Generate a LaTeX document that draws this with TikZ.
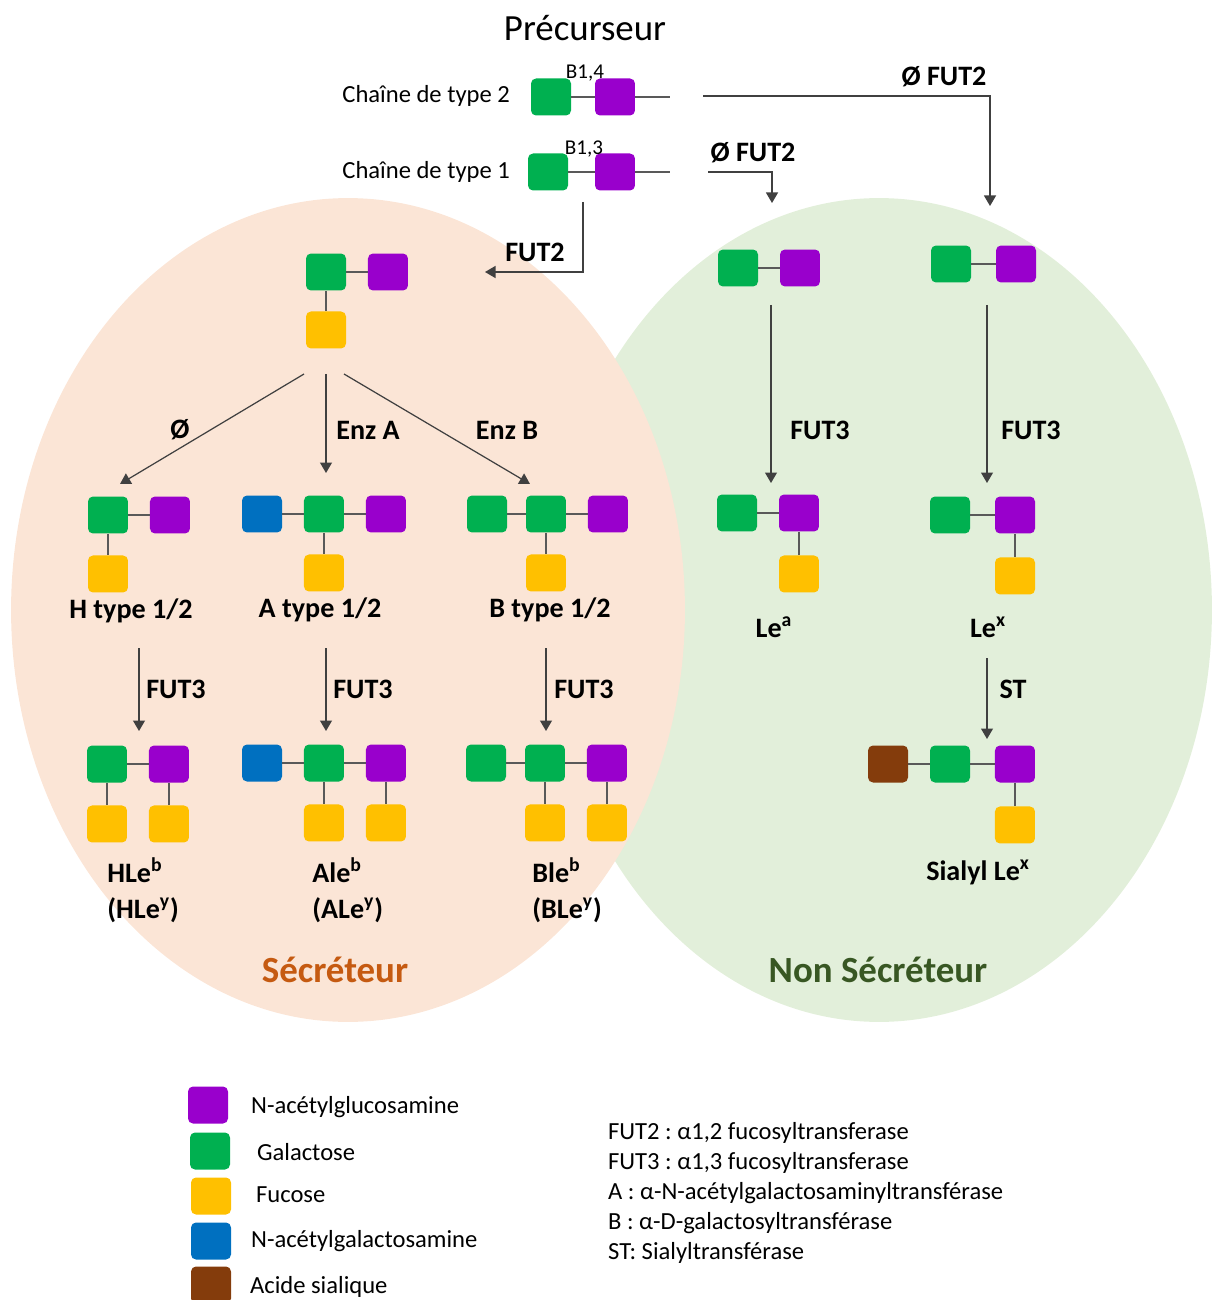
\documentclass[tikz,border=0pt]{standalone}
\usepackage{fontspec}
\setmainfont{Carlito}
\usepackage{tikz}
\usetikzlibrary{arrows.meta}
\frenchspacing

\definecolor{gal}{HTML}{00B050}
\definecolor{glcnac}{HTML}{9900CC}
\definecolor{fuc}{HTML}{FFC000}
\definecolor{galnac}{HTML}{0070C0}
\definecolor{sia}{HTML}{843C0C}
\definecolor{secfill}{HTML}{FBE5D6}
\definecolor{nonsecfill}{HTML}{E2EFDA}
\definecolor{sectext}{HTML}{C55A11}
\definecolor{nonsectext}{HTML}{385723}

\tikzstyle{arrow} = [line width=0.7pt, draw=black!75, -{Triangle[length=2.1mm,width=2.4mm]}]
\tikzstyle{link} = [line width=0.6pt, draw=black!65]
\tikzstyle{sugar} = [rectangle, rounded corners=0.1cm, minimum width=0.8cm, minimum height=0.74cm, inner sep=0pt]
\tikzstyle{Gal} = [sugar, fill=gal]
\tikzstyle{GlcNAc} = [sugar, fill=glcnac]
\tikzstyle{Fuc} = [sugar, fill=fuc]
\tikzstyle{GalNAc} = [sugar, fill=galnac]
\tikzstyle{Sia} = [sugar, fill=sia]
\tikzstyle{enz} = [font=\fontsize{16}{20}\selectfont\bfseries, inner sep=1pt]
\tikzstyle{glyco} = [font=\fontsize{16}{20.5}\selectfont\bfseries, inner sep=0pt, align=left, anchor=west]
\tikzstyle{plain} = [font=\fontsize{14}{17}\selectfont, inner sep=1pt]
\tikzstyle{bond} = [font=\fontsize{12}{14}\selectfont, inner sep=0pt]

\begin{document}
\begin{tikzpicture}[x=0.02cm, y=-0.02cm, node distance=1.24cm]
\useasboundingbox (0,0) rectangle (1215,1300);

% two populations
\fill [nonsecfill] (879,610) ellipse [x radius=6.66cm, y radius=8.24cm];
\fill [secfill] (348,610) ellipse [x radius=6.74cm, y radius=8.24cm];
\node (sec) at (335,970) [font=\fontsize{21}{25}\selectfont\bfseries, text=sectext] {Sécréteur};
\node (nonsec) at (878,970) [font=\fontsize{21}{25}\selectfont\bfseries, text=nonsectext] {Non Sécréteur};

% precursor chains
\node (title) at (585,28) [font=\fontsize{21}{25}\selectfont] {Précurseur};
\node (t2label) at (512,96) [plain, anchor=east] {Chaîne de type 2};
\node (t2Gal) at (551,97) [Gal] {};
\node (t2Glc) [GlcNAc, right of=t2Gal, node distance=1.28cm] {};
\node (t2bond) at (585,73) [bond] {B1,4};
\coordinate (t2end) at (670,97);
\draw [link] (t2Gal) -- (t2Glc);
\draw [link] (t2Glc) -- (t2end);

\node (t1label) at (512,172) [plain, anchor=east] {Chaîne de type 1};
\node (t1Gal) at (548,172) [Gal] {};
\node (t1Glc) [GlcNAc, right of=t1Gal, node distance=1.34cm] {};
\node (t1bond) at (584,149) [bond] {B1,3};
\coordinate (t1end) at (670,172);
\draw [link] (t1Gal) -- (t1Glc);
\draw [link] (t1Glc) -- (t1end);

% FUT2 or not
\coordinate (nf2a) at (703,96);
\coordinate (nf2b) at (990,206);
\draw [arrow] (nf2a) -| (nf2b);
\node (nf2lbl) at (944,77) [enz] {Ø FUT2};
\coordinate (nf1a) at (708,172);
\coordinate (nf1b) at (772,203);
\draw [arrow] (nf1a) -| (nf1b);
\node (nf1lbl) at (753,153) [enz] {Ø FUT2};
\coordinate (f2a) at (583,202);
\coordinate (f2b) at (485,272);
\draw [arrow] (f2a) |- (f2b);
\node (f2lbl) at (535,252) [enz] {FUT2};

% H precursor
\node (pGal) at (326,272) [Gal] {};
\node (pGlc) [GlcNAc, right of=pGal] {};
\node (pFuc) [Fuc, below of=pGal, node distance=1.16cm] {};
\draw [link] (pGal) -- (pGlc);
\draw [link] (pGal) -- (pFuc);

\coordinate (treeH) at (304,374);
\coordinate (treeA) at (326,374);
\coordinate (treeB) at (344,374);
\coordinate (toH) at (120,484);
\coordinate (toA) at (326,473);
\coordinate (toB) at (530,484);
\draw [arrow] (treeH) -- (toH);
\draw [arrow] (treeA) -- (toA);
\draw [arrow] (treeB) -- (toB);
\node (enzO) at (180,430) [enz] {Ø};
\node (enzA) at (368,430) [enz] {Enz A};
\node (enzB) at (507,430) [enz] {Enz B};

% H, A, B type 1/2
\node (hGal) at (108,515) [Gal] {};
\node (hGlc) [GlcNAc, right of=hGal] {};
\node (hFuc) [Fuc, below of=hGal, node distance=1.18cm] {};
\draw [link] (hGal) -- (hGlc);
\draw [link] (hGal) -- (hFuc);
\node (hlbl) at (131,611) [enz] {H type 1/2};

\node (aNac) at (262,514) [GalNAc] {};
\node (aGal) [Gal, right of=aNac] {};
\node (aGlc) [GlcNAc, right of=aGal] {};
\node (aFuc) [Fuc, below of=aGal, node distance=1.18cm] {};
\draw [link] (aNac) -- (aGal) -- (aGlc);
\draw [link] (aGal) -- (aFuc);
\node (albl) at (320,610) [enz] {A type 1/2};

\node (bGalx) at (487,514) [Gal] {};
\node (bGal) [Gal, right of=bGalx, node distance=1.18cm] {};
\node (bGlc) [GlcNAc, right of=bGal] {};
\node (bFuc) [Fuc, below of=bGal, node distance=1.18cm] {};
\draw [link] (bGalx) -- (bGal) -- (bGlc);
\draw [link] (bGal) -- (bFuc);
\node (blbl) at (550,610) [enz] {B type 1/2};

% FUT3 on secretor side
\coordinate (h3a) at (139,648);
\coordinate (h3b) at (139,731);
\draw [arrow] (h3a) -- (h3b);
\node (h3lbl) at (176,689) [enz] {FUT3};
\coordinate (a3a) at (326,648);
\coordinate (a3b) at (326,731);
\draw [arrow] (a3a) -- (a3b);
\node (a3lbl) at (363,689) [enz] {FUT3};
\coordinate (b3a) at (546,648);
\coordinate (b3b) at (546,731);
\draw [arrow] (b3a) -- (b3b);
\node (b3lbl) at (584,689) [enz] {FUT3};

% HLeb, ALeb, BLeb
\node (hlGal) at (107,764) [Gal] {};
\node (hlGlc) [GlcNAc, right of=hlGal] {};
\node (hlFuc) [Fuc, below of=hlGal, node distance=1.2cm] {};
\node (hlFuc2) [Fuc, below of=hlGlc, node distance=1.2cm] {};
\draw [link] (hlGal) -- (hlGlc);
\draw [link] (hlGal) -- (hlFuc);
\draw [link] (hlGlc) -- (hlFuc2);
\node (hllbl) at (107,890) [glyco] {HLe\textsuperscript{b}\\(HLe\textsuperscript{y})};

\node (alNac) at (262,763) [GalNAc] {};
\node (alGal) [Gal, right of=alNac] {};
\node (alGlc) [GlcNAc, right of=alGal] {};
\node (alFuc) [Fuc, below of=alGal, node distance=1.2cm] {};
\node (alFuc2) [Fuc, below of=alGlc, node distance=1.2cm] {};
\draw [link] (alNac) -- (alGal) -- (alGlc);
\draw [link] (alGal) -- (alFuc);
\draw [link] (alGlc) -- (alFuc2);
\node (allbl) at (312,890) [glyco] {Ale\textsuperscript{b}\\(ALe\textsuperscript{y})};

\node (blGalx) at (486,763) [Gal] {};
\node (blGal) [Gal, right of=blGalx, node distance=1.18cm] {};
\node (blGlc) [GlcNAc, right of=blGal] {};
\node (blFuc) [Fuc, below of=blGal, node distance=1.2cm] {};
\node (blFuc2) [Fuc, below of=blGlc, node distance=1.2cm] {};
\draw [link] (blGalx) -- (blGal) -- (blGlc);
\draw [link] (blGal) -- (blFuc);
\draw [link] (blGlc) -- (blFuc2);
\node (bllbl) at (532,890) [glyco] {Ble\textsuperscript{b}\\(BLe\textsuperscript{y})};

% non secretor: Lea
\node (naGal) at (738,268) [Gal] {};
\node (naGlc) [GlcNAc, right of=naGal] {};
\draw [link] (naGal) -- (naGlc);
\coordinate (lea3a) at (771,305);
\coordinate (lea3b) at (771,483);
\draw [arrow] (lea3a) -- (lea3b);
\node (lea3lbl) at (820,430) [enz] {FUT3};
\node (leaGal) at (737,513) [Gal] {};
\node (leaGlc) [GlcNAc, right of=leaGal] {};
\node (leaFuc) [Fuc, below of=leaGlc, node distance=1.22cm] {};
\draw [link] (leaGal) -- (leaGlc);
\draw [link] (leaGlc) -- (leaFuc);
\node (lealbl) at (774,627) [enz] {Le\textsuperscript{a}};

% non secretor: Lex and sialyl Lex
\node (nxGal) at (951,264) [Gal] {};
\node (nxGlc) [GlcNAc, right of=nxGal, node distance=1.3cm] {};
\draw [link] (nxGal) -- (nxGlc);
\coordinate (lex3a) at (987,305);
\coordinate (lex3b) at (987,483);
\draw [arrow] (lex3a) -- (lex3b);
\node (lex3lbl) at (1031,430) [enz] {FUT3};
\node (lexGal) at (950,515) [Gal] {};
\node (lexGlc) [GlcNAc, right of=lexGal, node distance=1.3cm] {};
\node (lexFuc) [Fuc, below of=lexGlc, node distance=1.22cm] {};
\draw [link] (lexGal) -- (lexGlc);
\draw [link] (lexGlc) -- (lexFuc);
\node (lexlbl) at (988,627) [enz] {Le\textsuperscript{x}};

\coordinate (sta) at (987,658);
\coordinate (stb) at (987,739);
\draw [arrow] (sta) -- (stb);
\node (stlbl) at (1013,689) [enz] {ST};
\node (slSia) at (888,764) [Sia] {};
\node (slGal) [Gal, right of=slSia] {};
\node (slGlc) [GlcNAc, right of=slGal, node distance=1.3cm] {};
\node (slFuc) [Fuc, below of=slGlc, node distance=1.22cm] {};
\draw [link] (slSia) -- (slGal) -- (slGlc);
\draw [link] (slGlc) -- (slFuc);
\node (sllbl) at (978,872) [enz] {Sialyl Le\textsuperscript{x}};

% legend
\node (kGlc) at (208,1105) [GlcNAc] {};
\node (kGlcT) at (249,1107) [plain, anchor=west] {N-acétylglucosamine};
\node (kGal) at (210,1151) [Gal] {};
\node (kGalT) at (255,1152) [plain, anchor=west] {Galactose};
\node (kFuc) at (211,1196) [Fuc] {};
\node (kFucT) at (254,1195) [plain, anchor=west] {Fucose};
\node (kNac) at (211,1241) [GalNAc] {};
\node (kNacT) at (249,1241) [plain, anchor=west] {N-acétylgalactosamine};
\node (kSia) at (211,1285) [Sia] {};
\node (kSiaT) at (248,1287) [plain, anchor=west] {Acide sialique};

\node (abbr) at (606,1193) [plain, anchor=west, align=left] {FUT2 : α1,2 fucosyltransferase\\FUT3 : α1,3 fucosyltransferase\\A : α-N-acétylgalactosaminyltransférase\\B : α-D-galactosyltransférase\\ST: Sialyltransférase};
\end{tikzpicture}
\end{document}
